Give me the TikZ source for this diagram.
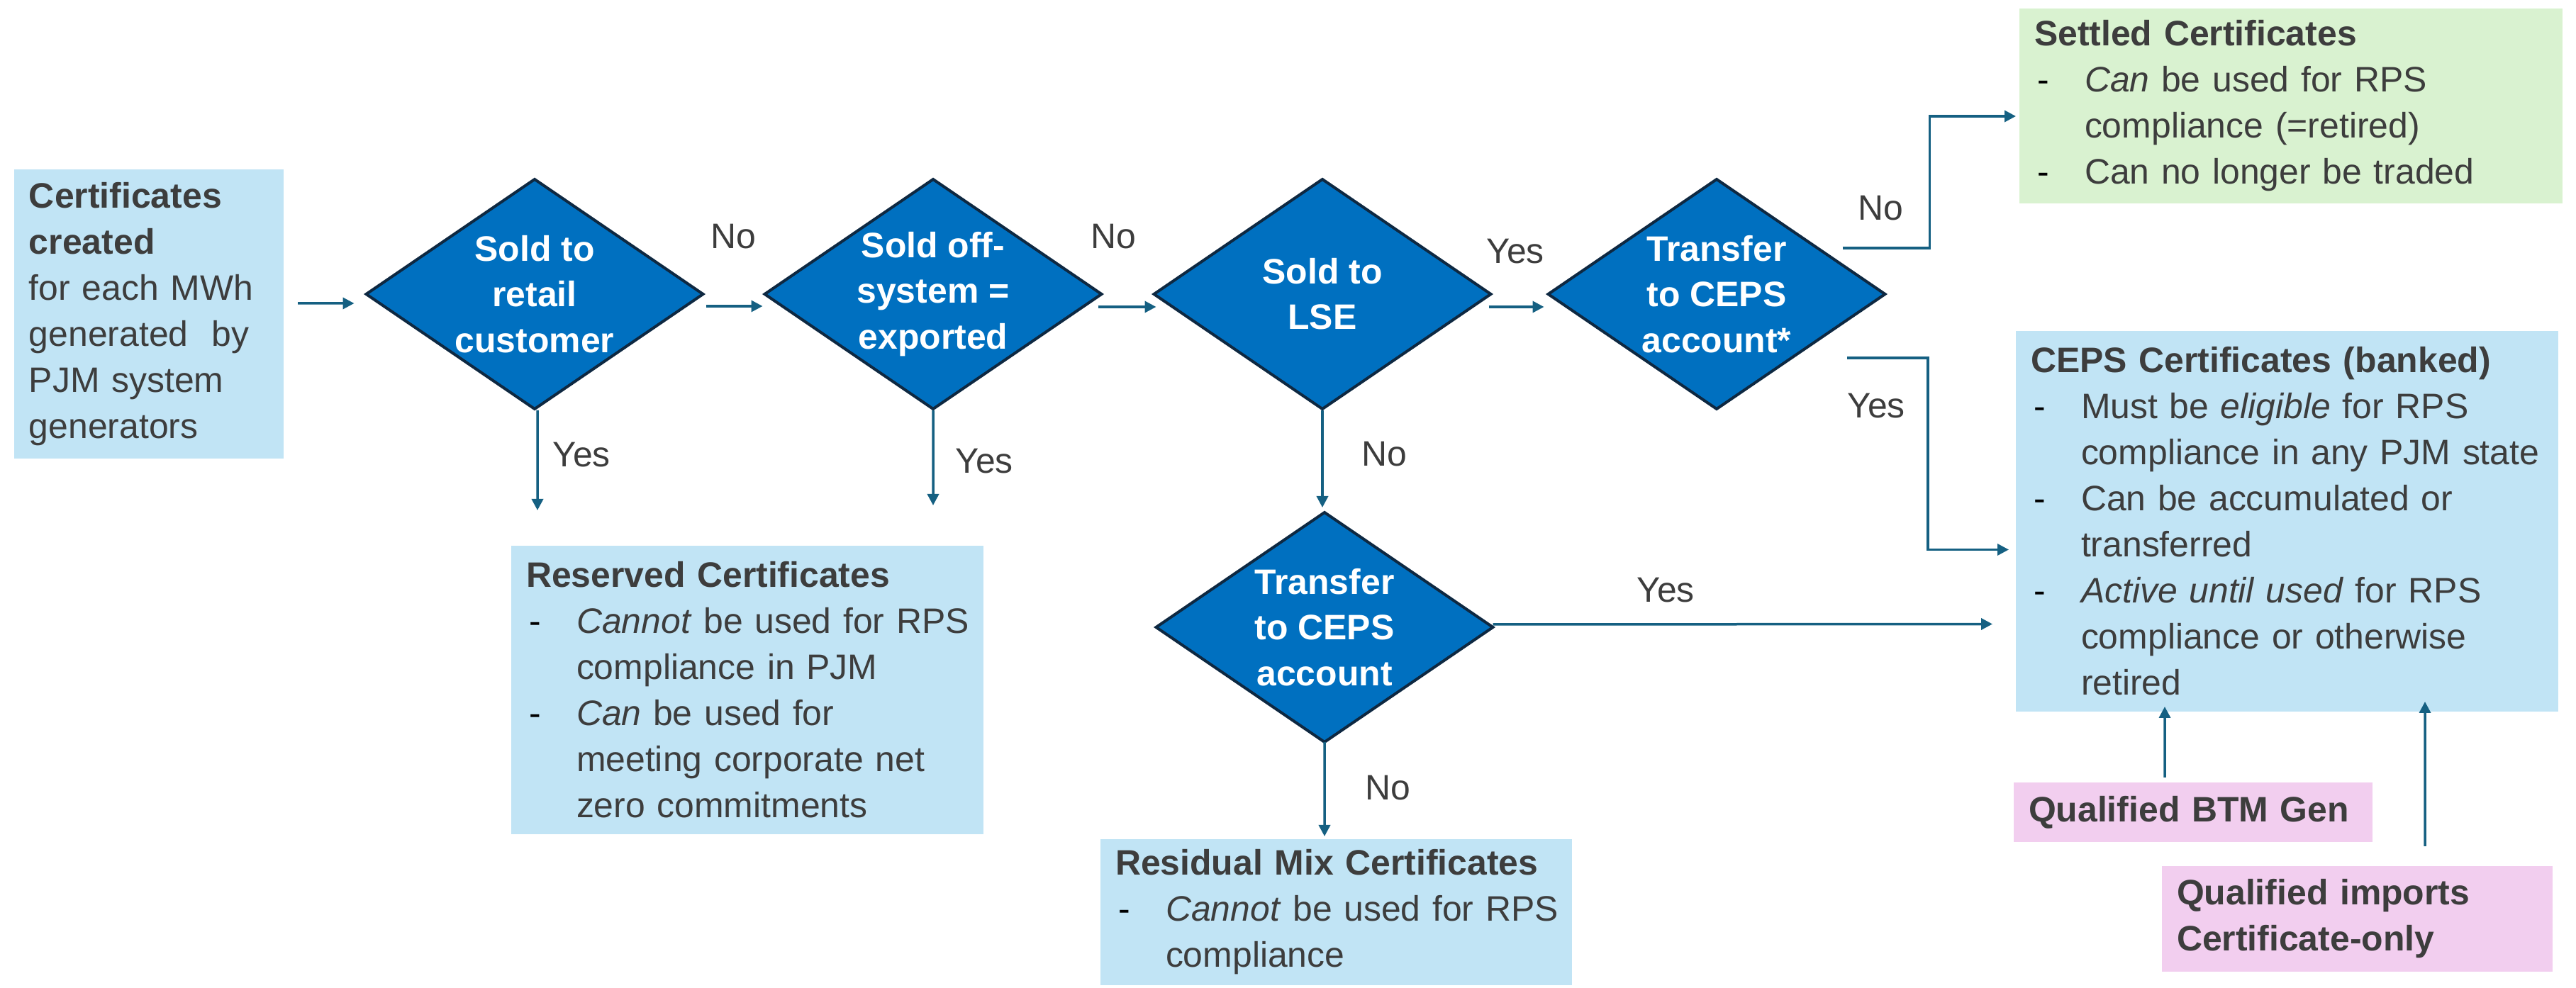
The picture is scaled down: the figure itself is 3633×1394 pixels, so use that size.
\documentclass[tikz,border=0pt]{standalone}
\usepackage{fontspec}
\setmainfont{Liberation Sans}
\usetikzlibrary{shapes.geometric,arrows.meta}

\definecolor{boxblue}{HTML}{C1E4F5}
\definecolor{boxgreen}{HTML}{D9F2D0}
\definecolor{boxpink}{HTML}{F2CEEF}
\definecolor{diafill}{HTML}{0070C0}
\definecolor{diaedge}{HTML}{0E2841}
\definecolor{arrowc}{HTML}{156082}
\definecolor{txt}{HTML}{3D3D3D}

% bullet dash and hanging indent for list lines (lines never rewrap)
\newcommand\bdash[1]{\makebox[7.1mm][l]{\hspace{0.4mm}\textcolor{black}{-}}\mbox{#1}}
\newcommand\bindent[1]{\hspace*{7.1mm}\mbox{#1}}

\begin{document}
\begin{tikzpicture}[x=0.1mm,y=-0.1mm,
  every node/.style={font=\fontsize{14.2pt}{18.5pt}\selectfont},
  infobox/.style={inner xsep=2.1mm, inner ysep=0pt, outer sep=0pt, align=left,
    anchor=north west, text=txt, font=\fontsize{14.2pt}{18.5pt}\selectfont},
  bluebox/.style={infobox, fill=boxblue},
  greenbox/.style={infobox, fill=boxgreen},
  pinkbox/.style={infobox, fill=boxpink},
  decision/.style={diamond, fill=diafill, draw=diaedge, line width=0.4mm,
    minimum width=47.5mm, minimum height=32.4mm, inner sep=0pt, outer sep=0pt},
  dtext/.style={text=white, align=center, inner sep=0pt,
    font=\fontsize{14.2pt}{18.3pt}\selectfont\bfseries},
  flow/.style={draw=arrowc, line width=0.35mm, -{Triangle[length=1.6mm,width=1.6mm]}},
  lbl/.style={text=txt, inner sep=0pt}]

\fill[white] (0,0) rectangle (3633,1394);
\useasboundingbox (0,0) rectangle (3633,1394);

% ---- information boxes ----
\node[bluebox, text width=33.8mm, minimum height=40.8mm] (cert) at (20,239)
  {\textbf{Certificates}\\\textbf{created}\\for each MWh\\generated~ by\\PJM system\\generators};

\node[bluebox, text width=62.4mm, minimum height=40.7mm] (reserved) at (721,770)
  {\textbf{Reserved Certificates}\\
   \bdash{\emph{Cannot} be used for RPS}\\
   \bindent{compliance in PJM}\\
   \bdash{\emph{Can} be used for}\\
   \bindent{meeting corporate net}\\
   \bindent{zero commitments}};

\node[bluebox, text width=62.3mm, minimum height=20.6mm] (resid) at (1552,1184)
  {\textbf{Residual Mix Certificates}\\
   \bdash{\emph{Cannot} be used for RPS}\\
   \bindent{compliance}};

\node[greenbox, text width=72.4mm, minimum height=27.5mm] (settled) at (2848,12)
  {\textbf{Settled Certificates}\\
   \bdash{\emph{Can} be used for RPS}\\
   \bindent{compliance (=retired)}\\
   \bdash{Can no longer be traded}};

\node[bluebox, text width=72.3mm, minimum height=53.7mm] (ceps) at (2843,467)
  {\textbf{CEPS Certificates (banked)}\\
   \bdash{Must be \emph{eligible} for RPS}\\
   \bindent{compliance in any PJM state}\\
   \bdash{Can be accumulated or}\\
   \bindent{transferred}\\
   \bdash{\emph{Active until used} for RPS}\\
   \bindent{compliance or otherwise}\\
   \bindent{retired}};

\node[pinkbox, text width=46.4mm, minimum height=8.4mm] (btm) at (2840,1104)
  {\textbf{Qualified BTM Gen}};

\node[pinkbox, text width=50.9mm, minimum height=14.9mm] (imports) at (3049,1222)
  {\textbf{Qualified imports}\\\textbf{Certificate-only}};

% ---- decisions ----
\node[decision] (d1) at (754,415) {};
\node[dtext] (d1t) at (d1) {Sold to\\retail\\customer};
\node[decision] (d2) at (1316,415) {};
\node[dtext] (d2t) at (d2) {Sold off-\\system =\\exported};
\node[decision] (d3) at (1865,415) {};
\node[dtext] (d3t) at (d3) {Sold to\\LSE};
\node[decision] (d4) at (2421,415) {};
\node[dtext] (d4t) at (d4) {Transfer\\to CEPS\\account*};
\node[decision] (d5) at (1868,885) {};
\node[dtext] (d5t) at (d5) {Transfer\\to CEPS\\account};

% ---- connectors ----
\draw[flow] ([shift={(20,-15)}]cert.east) -- ([shift={(-17,13)}]d1.west);
\draw[flow] ([shift={(4,17)}]d1.east) -- ([shift={(-3,17)}]d2.west);
\draw[flow] ([shift={(-5,18)}]d2.east) -- ([shift={(3,18)}]d3.west);
\draw[flow] ([shift={(-3,18)}]d3.east) -- ([shift={(-6,18)}]d4.west);
\draw[flow] ([shift={(-60,-65)}]d4.east) -- ++(123,0) |- ([shift={(-5,14.5)}]settled.west);
\draw[flow] ([shift={(-53.5,90)}]d4.east) -- ++(114,0) |- ([shift={(-10,40)}]ceps.west);
\draw[flow] ([shift={(4,2)}]d1.south) -- ([shift={(-296,-50)}]reserved.north);
\draw[flow] ([shift={(0,2)}]d2.south) -- ([shift={(262,-57)}]reserved.north);
\draw[flow] ([shift={(0,2)}]d3.south) -- ([shift={(-3,-7)}]d5.north);
\draw[flow] ([shift={(0,-4)}]d5.east) -- ([shift={(-33,145)}]ceps.west);
\draw[flow] (d5.south) -- ([shift={(-16.5,-4)}]resid.north);
\draw[flow] ([shift={(-40,-7)}]btm.north) -- ([shift={(-172.5,-7)}]ceps.south);
\draw[flow] ([shift={(95.5,-28)}]imports.north) -- ([shift={(194.5,-14)}]ceps.south);

% ---- connector labels ----
\node[lbl] (l1) at (1034,334) {No};
\node[lbl] (l2) at (1570,334) {No};
\node[lbl] (l3) at (2137,355) {Yes};
\node[lbl] (l4) at (2652,294) {No};
\node[lbl] (l5) at (2646,573) {Yes};
\node[lbl] (l6) at (820,642) {Yes};
\node[lbl] (l7) at (1388,651) {Yes};
\node[lbl] (l8) at (1952,641) {No};
\node[lbl] (l9) at (2349,833) {Yes};
\node[lbl] (l10) at (1957,1112) {No};
\end{tikzpicture}
\end{document}
